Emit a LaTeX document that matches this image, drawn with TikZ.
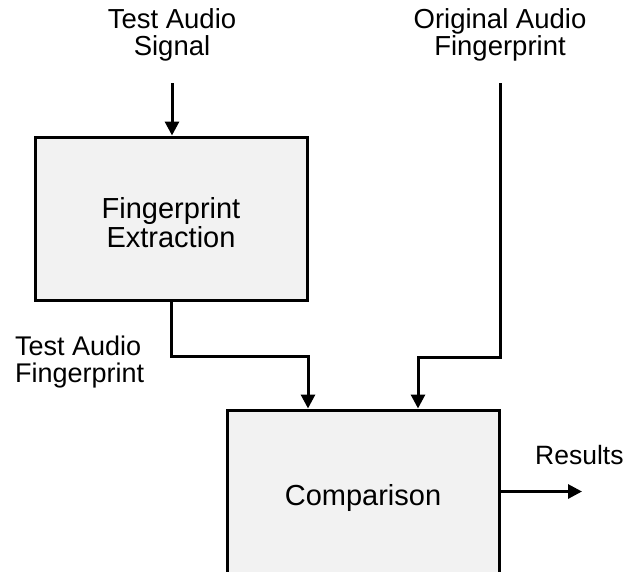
\documentclass[tikz,border=0pt]{standalone}
\usepackage{fontspec}
\setmainfont{Liberation Sans}
\usetikzlibrary{arrows.meta}
\definecolor{boxfill}{HTML}{F2F2F2}
\begin{document}
\begin{tikzpicture}[x=1pt,y=-1pt,
  lbl/.style={font=\fontsize{27.5}{27}\selectfont, inner sep=0pt, align=center},
  blk/.style={draw, line width=3pt, fill=boxfill, minimum width=272pt, minimum height=163pt,
    inner sep=0pt, align=center, font=\fontsize{29}{29}\selectfont},
  conn/.style={line width=3pt},
  arr/.style={conn, -{Triangle[length=14pt,width=14pt]}}]
\useasboundingbox (0,0) rectangle (626,571);
\clip (0,0) rectangle (626,571);
% labels
\node[lbl, anchor=north] (tas) at (172,8.5) {Test Audio\\Signal};
\node[lbl, anchor=north] (oaf) at (500,8.5) {Original Audio\\Fingerprint};
\node[lbl, anchor=north west, align=left, font=\fontsize{27}{27}\selectfont] (taf) at (15,336) {Test Audio\\Fingerprint};
\node[lbl, anchor=base west, font=\fontsize{26.5}{27}\selectfont] (res) at (535,464) {Results};
% blocks
\node[blk] (fe) at (171,218.5) {\rule{0pt}{30pt}Fingerprint\\Extraction};
\node[blk] (cmp) at (363,491.5) {\rule{0pt}{33pt}Comparison};
% coordinates
\coordinate (s0) at (172,83);
\coordinate (o0) at (500,83);
\coordinate (m1) at (308,356);
\coordinate (m2) at (418,357);
\coordinate (r1) at (582,491.5);
% connectors
\draw[arr] (s0) -- (s0 |- fe.north);
\draw[arr] (fe.south) |- (m1) -- (m1 |- cmp.north);
\draw[arr] (o0) |- (m2) -- (m2 |- cmp.north);
\draw[arr] (cmp.east) -- (r1);
\end{tikzpicture}
\end{document}
